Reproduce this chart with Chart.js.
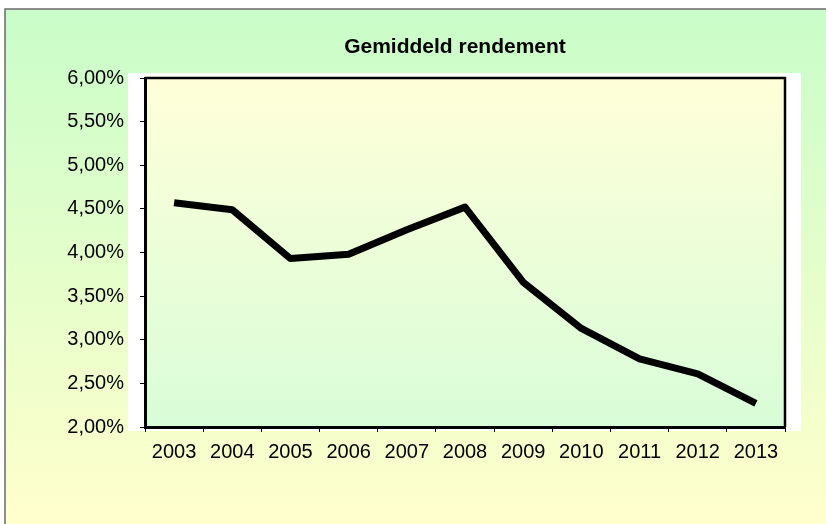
<!DOCTYPE html>
<html>
<head>
<meta charset="utf-8">
<script src="https://cdn.jsdelivr.net/npm/chart.js@4.4.1/dist/chart.umd.min.js"></script>
<style>
  html, body { margin: 0; padding: 0; background: #fff; }
  canvas { display: block; }
</style>
</head>
<body>
<canvas id="rendementChart" width="826" height="524"></canvas>
<script>
// data
const years = ["2003", "2004", "2005", "2006", "2007", "2008", "2009", "2010", "2011", "2012", "2013"];
const rendement = [4.57, 4.49, 3.93, 3.98, 4.26, 4.52, 3.66, 3.13, 2.78, 2.61, 2.27];
const yMin = 2;
const yMax = 6;
const yStep = 0.5;
const chartTitle = "Gemiddeld rendement";

const FONT = "'Liberation Sans', Arial, sans-serif";

// background, white frame behind the plot, gradient plot area, title
const backdrop = {
  id: "backdrop",
  beforeDraw(chart) {
    const { ctx, chartArea: a, width, height } = chart;
    ctx.save();
    ctx.fillStyle = "#ffffff";
    ctx.fillRect(0, 0, width, height);

    const outer = ctx.createLinearGradient(0, 9, 0, height);
    outer.addColorStop(0, "#c9fdc9");
    outer.addColorStop(1, "#ffffcc");
    ctx.fillStyle = outer;
    ctx.fillRect(5, 9, width - 5, height - 9);

    ctx.strokeStyle = "#6a6a6a";
    ctx.lineWidth = 1.5;
    ctx.beginPath();
    ctx.moveTo(5, height);
    ctx.lineTo(5, 9);
    ctx.lineTo(width, 9);
    ctx.stroke();

    // white frame behind plot area
    ctx.fillStyle = "#ffffff";
    ctx.fillRect(a.left - 17, a.top - 5, a.right - a.left + 33, a.bottom - a.top + 9);

    const inner = ctx.createLinearGradient(0, a.top, 0, a.bottom);
    inner.addColorStop(0, "#ffffd9");
    inner.addColorStop(1, "#d8fdd8");
    ctx.fillStyle = inner;
    ctx.fillRect(a.left, a.top, a.right - a.left, a.bottom - a.top);

    // title
    ctx.fillStyle = "#000";
    ctx.font = "bold 21px " + FONT;
    ctx.textAlign = "center";
    ctx.textBaseline = "alphabetic";
    ctx.fillText(chartTitle, 455, 53);
    ctx.restore();
  },
  afterDatasetsDraw(chart) {
    const { ctx, chartArea: a } = chart;
    ctx.save();
    ctx.strokeStyle = "#000";
    ctx.lineWidth = 2.5;
    ctx.beginPath();
    ctx.moveTo(a.left, a.top);
    ctx.lineTo(a.right, a.top);
    ctx.lineTo(a.right, a.bottom);
    ctx.stroke();
    ctx.restore();
  }
};

const ctx = document.getElementById("rendementChart").getContext("2d");

new Chart(ctx, {
  type: "line",
  data: {
    labels: years,
    datasets: [
      {
        label: chartTitle,
        data: rendement,
        borderColor: "#000000",
        borderWidth: 7,
        borderJoinStyle: "round",
        borderCapStyle: "butt",
        pointRadius: 0,
        tension: 0,
        fill: false,
      },
    ],
  },
  options: {
    responsive: false,
    animation: false,
    layout: {
      padding: { top: 78, right: 41, bottom: 57, left: 0 },
    },
    plugins: {
      legend: { display: false },
      title: { display: false },
      tooltip: { enabled: false },
    },
    scales: {
      x: {
        offset: true,
        grid: {
          offset: true,
          drawOnChartArea: false,
          drawTicks: true,
          tickLength: 5,
          color: "#000",
        },
        border: { display: true, color: "#000", width: 3 },
        ticks: {
          color: "#000",
          font: { family: FONT, size: 20 },
          padding: 8,
          maxRotation: 0,
          autoSkip: false,
        },
        afterFit(scale) {
          scale.height = 40;
        },
      },
      y: {
        min: yMin,
        max: yMax,
        grid: {
          drawOnChartArea: false,
          drawTicks: true,
          tickLength: 5,
          color: "#000",
        },
        border: { display: true, color: "#000", width: 3 },
        ticks: {
          stepSize: yStep,
          color: "#000",
          font: { family: FONT, size: 20 },
          padding: 16,
          callback: (v) => v.toFixed(2).replace(".", ",") + "%",
        },
        afterFit(scale) {
          scale.width = 145;
        },
      },
    },
  },
  plugins: [backdrop],
});
</script>
</body>
</html>
